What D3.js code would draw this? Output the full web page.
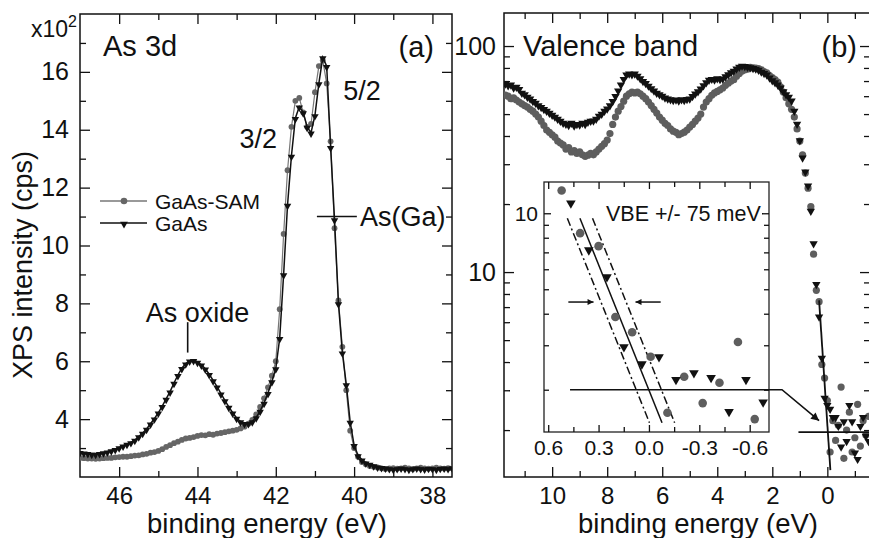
<!DOCTYPE html>
<html lang="en">
<head>
<meta charset="UTF-8">
<title>As 3d and valence band XPS</title>
<script src="https://cdn.jsdelivr.net/npm/d3@7/dist/d3.min.js"></script>
<style>
    body { margin: 0; background: #fff; }
    svg text { font-family: "Liberation Sans", Arial, sans-serif; fill: #111; }
</style>
</head>
<body>
<div id="chart"></div>
<script>
    // ---- panel (a): As 3d core level, one value per 0.1 eV from 47.0 down to 37.5 eV (x100 cps)
    const as3dStart = 47.0, as3dStep = 0.1;
    const as3dSam = [
        2.66, 2.65, 2.64, 2.64, 2.63, 2.64, 2.65, 2.66, 2.66, 2.68,
        2.69, 2.70, 2.70, 2.72, 2.74, 2.75, 2.78, 2.80, 2.84, 2.86,
        2.90, 2.96, 3.04, 3.10, 3.17, 3.22, 3.28, 3.33, 3.35, 3.38,
        3.42, 3.45, 3.44, 3.48, 3.46, 3.50, 3.52, 3.55, 3.58, 3.60,
        3.63, 3.68, 3.74, 3.84, 3.97, 4.16, 4.42, 4.72, 5.10, 5.50,
        6.00, 7.80, 10.4, 12.6, 14.1, 15.0, 15.1, 14.6, 14.1, 14.2,
        15.3, 16.2, 16.4, 15.6, 13.6, 10.6, 8.1, 6.5, 5.0, 3.6,
        3.0, 2.7, 2.52, 2.44, 2.38, 2.35, 2.33, 2.30, 2.28, 2.30,
        2.31, 2.29, 2.30, 2.32, 2.30, 2.28, 2.30, 2.32, 2.30, 2.29,
        2.30, 2.32, 2.30, 2.29, 2.31, 2.30
    ];
    const as3dGaas = [
        2.86, 2.84, 2.82, 2.80, 2.80, 2.82, 2.85, 2.88, 2.92, 2.96,
        3.02, 3.08, 3.14, 3.20, 3.28, 3.40, 3.52, 3.66, 3.84, 4.02,
        4.22, 4.45, 4.70, 4.95, 5.25, 5.52, 5.76, 5.92, 6.02, 6.04,
        5.98, 5.88, 5.74, 5.55, 5.34, 5.12, 4.88, 4.65, 4.42, 4.22,
        4.04, 3.92, 3.86, 3.86, 3.92, 4.06, 4.28, 4.56, 4.90, 5.30,
        5.75, 6.8, 9.0, 11.4, 13.1, 14.4, 14.8, 14.6, 14.1, 13.9,
        14.5, 15.6, 16.5, 16.2, 13.4, 10.9, 8.0, 6.3, 5.2, 3.9,
        3.1, 2.75, 2.6, 2.5, 2.45, 2.40, 2.36, 2.34, 2.32, 2.30,
        2.28, 2.30, 2.32, 2.30, 2.28, 2.30, 2.32, 2.30, 2.29, 2.31,
        2.30, 2.28, 2.31, 2.32, 2.30, 2.33
    ];

    // ---- panel (b): valence band, one value per 0.1 eV from 11.7 down to -1.5 eV (cps)
    const vbStart = 11.7, vbStep = 0.1;
    const vbSam = [
        60.7, 60.0, 58.5, 59.0, 57.7, 56.5, 55.5, 54.5, 53.7, 52.5,
        51.5, 50.0, 48.5, 46.5, 44.5, 42.5, 41.5, 40.5, 39.5, 38.0,
        37.2, 36.5, 35.0, 35.5, 34.0, 34.5, 33.5, 34.0, 33.0, 32.5,
        32.9, 33.5, 33.0, 34.0, 35.0, 36.0, 37.0, 38.4, 41.0, 45.0,
        48.5, 51.5, 54.0, 57.0, 60.0, 61.5, 62.5, 62.0, 62.6, 61.5,
        60.0, 58.5, 56.5, 54.5, 52.5, 50.5, 48.5, 47.0, 45.5, 44.5,
        43.0, 42.0, 41.5, 40.5, 41.0, 41.6, 42.5, 43.8, 45.0, 46.5,
        48.0, 50.0, 53.7, 56.5, 58.5, 60.5, 62.0, 63.0, 64.0, 65.2,
        67.0, 68.5, 70.0, 71.0, 73.5, 75.5, 77.5, 78.5, 79.0, 80.5,
        80.0, 79.9, 79.5, 78.5, 77.0, 76.0, 74.0, 72.5, 71.0, 69.3,
        66.0, 62.6, 59.0, 55.5, 52.5, 48.5, 43.0, 38.0, 33.0, 27.4,
        23.5, 19.5, 12.0, 8.3, 7.4, 3.9, 3.4, 2.7, 1.6, 2.2,
        1.8, 2.1, 3.1, 1.5, 2.0, 2.4, 1.6, 1.85, 2.6, 1.7,
        2.2, 1.9, 2.3
    ];
    const vbGaas = [
        68.6, 67.5, 68.0, 66.0, 66.5, 65.0, 62.5, 61.5, 60.0, 59.0,
        57.5, 56.5, 55.0, 54.0, 53.0, 52.0, 51.0, 50.0, 49.0, 48.0,
        47.0, 46.0, 45.6, 45.0, 46.0, 44.8, 45.5, 45.2, 46.0, 45.5,
        46.5, 47.0, 47.1, 48.0, 49.5, 50.5, 52.0, 53.2, 55.0, 57.5,
        60.5, 63.9, 68.0, 72.0, 75.2, 76.0, 75.5, 76.0, 74.4, 72.5,
        70.5, 69.0, 67.2, 65.5, 64.0, 62.5, 61.5, 60.7, 59.5, 59.0,
        58.5, 58.0, 58.3, 57.8, 58.5, 58.0, 58.6, 58.9, 60.5, 62.0,
        63.5, 65.2, 67.5, 69.5, 71.4, 72.0, 71.5, 72.5, 71.8, 72.2,
        74.0, 75.5, 77.0, 78.3, 80.0, 81.5, 82.4, 82.0, 81.5, 81.0,
        80.5, 79.9, 79.0, 77.5, 76.5, 75.2, 73.0, 71.0, 69.5, 68.0,
        65.9, 63.5, 61.5, 60.0, 57.7, 52.0, 45.6, 38.5, 32.3, 28.0,
        24.3, 18.8, 13.5, 8.9, 6.4, 4.2, 2.8, 2.6, 2.5, 2.3,
        2.3, 2.1, 1.7, 2.2, 1.8, 2.6, 2.2, 1.6, 1.5, 2.1,
        2.3, 1.9, 1.8
    ];

    // ---- inset: valence band edge
    const insetSamE = [0.52, 0.41, 0.30, 0.20, 0.10, -0.01, -0.11, -0.21, -0.32, -0.42, -0.53, -0.63];
    const insetSamI = [12.3, 8.34, 7.41, 3.88, 3.38, 2.70, 1.62, 2.25, 1.77, 2.13, 3.09, 1.53];
    const insetGaasE = [0.465, 0.358, 0.25, 0.149, 0.042, -0.06, -0.161, -0.268, -0.37, -0.477, -0.578, -0.68];
    const insetGaasI = [11.05, 7.21, 5.64, 2.98, 2.55, 2.72, 2.21, 2.35, 2.25, 1.65, 2.21, 1.80];
    const edgeFitE = [0.411, -0.078], edgeFitI = [9.55, 1.48];   // linear edge fit
    const vbeShift = 0.075;                                       // +/- 75 meV
    const backgroundLevel = 2.0;
    const mainFitE = [0.3, -0.11], mainFitI = [7.5, 1.33];
    const mainBackground = 1.96;

    // ---- ticks
    const as3dXMajor = [46, 44, 42, 40, 38], as3dXMinor = [45, 43, 41, 39];
    const as3dYMajor = [4, 6, 8, 10, 12, 14, 16], as3dYMinor = [3, 5, 7, 9, 11, 13, 15, 17];
    const vbXMajor = [10, 8, 6, 4, 2, 0], vbXMinor = [11, 9, 7, 5, 3, 1, -1];
    const vbYMajor = [10, 100], vbYMinor = [2, 3, 4, 5, 6, 7, 8, 9, 20, 30, 40, 50, 60, 70, 80, 90];
    const inXMajor = [0.6, 0.3, 0, -0.3, -0.6], inXMinor = [0.45, 0.15, -0.15, -0.45];
    const inYMajor = [10], inYMinor = [2, 3, 4, 5, 6, 7, 8, 9];

    const width = 869, height = 538;
    const A = {left: 80, right: 452, top: 14, bottom: 477};
    const B = {left: 504, right: 870, top: 13, bottom: 477};
    const I = {left: 544, right: 769, top: 182, bottom: 432};
    const ink = "#111", grey = "#5e5e5e";

    const svg = d3.select('#chart').append('svg').attr('width', width).attr('height', height);
    const defs = svg.append('defs');

    const arrow = (id, w, h) => defs.append('marker').attr('id', id)
        .attr('viewBox', '0 0 10 10').attr('refX', 10).attr('refY', 5)
        .attr('markerUnits', 'userSpaceOnUse').attr('markerWidth', w).attr('markerHeight', h)
        .attr('orient', 'auto')
        .append('path').attr('d', 'M0,0 L10,5 L0,10 Z').attr('fill', ink);
    arrow('arrBig', 11, 8);
    arrow('arrSmall', 8, 6);

    const clip = (id, r) => defs.append('clipPath').attr('id', id).append('rect')
        .attr('x', r.left).attr('y', r.top).attr('width', r.right - r.left).attr('height', r.bottom - r.top);
    clip('clipA', A);
    clip('clipB', B);

    function ticks(orient, scale, values, len, at, opts = {}) {
        const make = {bottom: d3.axisBottom, top: d3.axisTop, left: d3.axisLeft, right: d3.axisRight}[orient];
        const ax = make(scale).tickValues(values).tickSize(-len).tickPadding(opts.pad || 0)
            .tickFormat(opts.fmt || (() => ''));
        const g = svg.append('g').attr('transform', at).call(ax)
            .attr('font-family', null).attr('font-size', opts.size || 24);
        g.select('.domain').remove();
        g.selectAll('.tick line').attr('stroke', ink).attr('stroke-width', 1.3);
        return g;
    }

    const frame = r => svg.append('rect').attr('x', r.left).attr('y', r.top)
        .attr('width', r.right - r.left).attr('height', r.bottom - r.top)
        .attr('fill', '#fff').attr('stroke', ink).attr('stroke-width', 1.5);

    const tri = size => d3.symbol(d3.symbolTriangle, size);

    // ================= panel (a) =================
    const xA = d3.scaleLinear().domain([47, 37.5]).range([A.left, A.right]);
    const yA = d3.scaleLinear().domain([2, 18]).range([A.bottom, A.top]);
    const eA = as3dSam.map((_, i) => +(as3dStart - i * as3dStep).toFixed(2));

    frame(A);
    ticks('bottom', xA, as3dXMajor, 10, `translate(0,${A.bottom})`, {pad: 10, fmt: d3.format('d')});
    ticks('bottom', xA, as3dXMinor, 6, `translate(0,${A.bottom})`);
    ticks('top', xA, as3dXMajor, 10, `translate(0,${A.top})`);
    ticks('top', xA, as3dXMinor, 6, `translate(0,${A.top})`);
    ticks('left', yA, as3dYMajor, 10, `translate(${A.left},0)`, {pad: 11, size: 25, fmt: d3.format('d')});
    ticks('left', yA, as3dYMinor, 6, `translate(${A.left},0)`);
    ticks('right', yA, as3dYMajor, 10, `translate(${A.right},0)`);
    ticks('right', yA, as3dYMinor, 6, `translate(${A.right},0)`);

    const plotA = svg.append('g').attr('clip-path', 'url(#clipA)');
    const lineA = d3.line().x((d, i) => xA(eA[i])).y(d => yA(d));
    plotA.append('path').datum(as3dSam).attr('d', lineA)
        .attr('fill', 'none').attr('stroke', '#777').attr('stroke-width', 1.2);
    plotA.selectAll('circle.sam').data(as3dSam).join('circle').classed('sam', true)
        .attr('cx', (d, i) => xA(eA[i])).attr('cy', d => yA(d)).attr('r', 2.9).attr('fill', '#666');
    plotA.append('path').datum(as3dGaas).attr('d', lineA)
        .attr('fill', 'none').attr('stroke', ink).attr('stroke-width', 1.5);
    plotA.selectAll('path.gaas').data(as3dGaas).join('path').classed('gaas', true)
        .attr('d', tri(24))
        .attr('transform', (d, i) => `translate(${xA(eA[i])},${yA(d) + 1}) rotate(180)`)
        .attr('fill', ink);

    // annotations (a)
    svg.append('text').attr('x', 68).attr('y', 37).attr('font-size', 23).attr('text-anchor', 'end').text('x10');
    svg.append('text').attr('x', 68).attr('y', 27).attr('font-size', 16).text('2');
    svg.append('text').attr('x', 103).attr('y', 56).attr('font-size', 29).text('As 3d');
    svg.append('text').attr('x', 434).attr('y', 57).attr('font-size', 29).attr('text-anchor', 'end').text('(a)');
    svg.append('text').attr('x', xA(42.45)).attr('y', yA(13.7) + 9.5).attr('font-size', 27)
        .attr('text-anchor', 'middle').text('3/2');
    svg.append('text').attr('x', xA(39.8)).attr('y', yA(15.35) + 9.5).attr('font-size', 27)
        .attr('text-anchor', 'middle').text('5/2');
    svg.append('line').attr('x1', xA(40.95)).attr('x2', xA(39.93)).attr('y1', yA(11)).attr('y2', yA(11))
        .attr('stroke', ink).attr('stroke-width', 1.6);
    svg.append('text').attr('x', xA(39.85)).attr('y', yA(11) + 9.5).attr('font-size', 27).text('As(Ga)');
    svg.append('text').attr('x', xA(44.0)).attr('y', yA(7.7) + 9.5).attr('font-size', 27)
        .attr('text-anchor', 'middle').text('As oxide');
    svg.append('line').attr('x1', xA(44.25)).attr('x2', xA(44.25)).attr('y1', yA(7.35)).attr('y2', yA(6.3))
        .attr('stroke', ink).attr('stroke-width', 1.6);

    // legend
    const legend = svg.append('g').attr('transform', 'translate(100,201)');
    legend.append('line').attr('x1', 0).attr('x2', 47).attr('stroke', '#777').attr('stroke-width', 1.4);
    legend.append('circle').attr('cx', 24).attr('r', 3.3).attr('fill', '#666');
    legend.append('text').attr('x', 55).attr('y', 7.5).attr('font-size', 21).text('GaAs-SAM');
    legend.append('line').attr('x1', 0).attr('x2', 47).attr('y1', 22).attr('y2', 22)
        .attr('stroke', ink).attr('stroke-width', 1.5);
    legend.append('path').attr('d', tri(26)).attr('transform', 'translate(24,23) rotate(180)').attr('fill', ink);
    legend.append('text').attr('x', 55).attr('y', 29.5).attr('font-size', 21).text('GaAs');

    svg.append('text').attr('transform', 'translate(32,265) rotate(-90)').attr('font-size', 27)
        .attr('text-anchor', 'middle').text('XPS intensity (cps)');
    svg.append('text').attr('x', 267).attr('y', 533).attr('font-size', 27.5)
        .attr('text-anchor', 'middle').text('binding energy (eV)');

    // ================= panel (b) =================
    const xB = d3.scaleLinear().domain([11.75, -1.55]).range([B.left, B.right]);
    const yB = d3.scaleLog().domain([1.24, 140]).range([B.bottom, B.top]);
    const eB = vbSam.map((_, i) => +(vbStart - i * vbStep).toFixed(2));

    frame(B);
    ticks('bottom', xB, vbXMajor, 10, `translate(0,${B.bottom})`, {pad: 10, fmt: d3.format('d')});
    ticks('bottom', xB, vbXMinor, 6, `translate(0,${B.bottom})`);
    ticks('top', xB, vbXMajor, 10, `translate(0,${B.top})`);
    ticks('top', xB, vbXMinor, 6, `translate(0,${B.top})`);
    ticks('left', yB, vbYMajor, 10, `translate(${B.left},0)`, {pad: 8, size: 25, fmt: d3.format('d')});
    ticks('left', yB, vbYMinor, 6, `translate(${B.left},0)`);
    ticks('right', yB, vbYMajor, 10, `translate(${B.right},0)`);
    ticks('right', yB, vbYMinor, 6, `translate(${B.right},0)`);

    const plotB = svg.append('g').attr('clip-path', 'url(#clipB)');
    plotB.selectAll('circle').data(vbSam).join('circle')
        .attr('cx', (d, i) => xB(eB[i])).attr('cy', d => yB(d)).attr('r', 3.6).attr('fill', grey);
    plotB.selectAll('path.gaas').data(vbGaas).join('path').classed('gaas', true)
        .attr('d', tri(30))
        .attr('transform', (d, i) => `translate(${xB(eB[i])},${yB(d) + 1}) rotate(180)`)
        .attr('fill', ink);
    plotB.append('line').attr('x1', xB(1.05)).attr('x2', xB(-1.6))
        .attr('y1', yB(mainBackground)).attr('y2', yB(mainBackground))
        .attr('stroke', ink).attr('stroke-width', 1.8);
    plotB.append('line').attr('x1', xB(mainFitE[0])).attr('x2', xB(mainFitE[1]))
        .attr('y1', yB(mainFitI[0])).attr('y2', yB(mainFitI[1]))
        .attr('stroke', ink).attr('stroke-width', 1.8);

    svg.append('text').attr('x', 523).attr('y', 56).attr('font-size', 29).text('Valence band');
    svg.append('text').attr('x', 857).attr('y', 57).attr('font-size', 29).attr('text-anchor', 'end').text('(b)');
    svg.append('text').attr('x', 698).attr('y', 533).attr('font-size', 27.5)
        .attr('text-anchor', 'middle').text('binding energy (eV)');

    // ================= inset =================
    const xI = d3.scaleLinear().domain([0.625, -0.715]).range([I.left, I.right]);
    const yI = d3.scaleLog().domain([1.36, 13.3]).range([I.bottom, I.top]);

    svg.append('rect').attr('x', I.left).attr('y', I.top).attr('width', I.right - I.left)
        .attr('height', I.bottom - I.top).attr('fill', '#fff').attr('stroke', '#222').attr('stroke-width', 1.3);
    const inFmt = d => d.toFixed(1);
    ticks('bottom', xI, inXMajor, 7, `translate(0,${I.bottom})`, {pad: 8, size: 21, fmt: inFmt});
    ticks('bottom', xI, inXMinor, 5, `translate(0,${I.bottom})`);
    ticks('top', xI, inXMajor, 7, `translate(0,${I.top})`);
    ticks('top', xI, inXMinor, 5, `translate(0,${I.top})`);
    ticks('left', yI, inYMajor, 7, `translate(${I.left},0)`, {pad: 6, size: 21, fmt: d3.format('d')});
    ticks('left', yI, inYMinor, 5, `translate(${I.left},0)`);
    ticks('right', yI, inYMajor, 7, `translate(${I.right},0)`);
    ticks('right', yI, inYMinor, 5, `translate(${I.right},0)`);

    const inset = svg.append('g');
    const yBg = yI(backgroundLevel);
    // background level, leaving the inset towards the main panel
    inset.append('line').attr('x1', xI(0.47)).attr('x2', I.right).attr('y1', yBg).attr('y2', yBg)
        .attr('stroke', ink).attr('stroke-width', 1.6);
    svg.append('path')
        .attr('d', `M${I.right},${yBg} L${I.right + 13},${yBg} L${xB(0.3)},${yB(2.2)}`)
        .attr('fill', 'none').attr('stroke', ink).attr('stroke-width', 1.6)
        .attr('marker-end', 'url(#arrBig)');

    const fitLine = (shift, dash) => inset.append('line')
        .attr('x1', xI(edgeFitE[0] + shift)).attr('y1', yI(edgeFitI[0]))
        .attr('x2', xI(edgeFitE[1] + shift)).attr('y2', yI(edgeFitI[1]))
        .attr('stroke', ink).attr('stroke-width', 1.5).attr('stroke-dasharray', dash);
    fitLine(0, null);
    fitLine(vbeShift, '8,3,2,3');
    fitLine(-vbeShift, '8,3,2,3');

    inset.append('line').attr('x1', xI(0.48)).attr('x2', xI(0.33)).attr('y1', yI(4.45)).attr('y2', yI(4.45))
        .attr('stroke', ink).attr('stroke-width', 1.5).attr('marker-end', 'url(#arrSmall)');
    inset.append('line').attr('x1', xI(-0.07)).attr('x2', xI(0.08)).attr('y1', yI(4.45)).attr('y2', yI(4.45))
        .attr('stroke', ink).attr('stroke-width', 1.5).attr('marker-end', 'url(#arrSmall)');

    inset.selectAll('circle').data(insetSamI).join('circle')
        .attr('cx', (d, i) => xI(insetSamE[i])).attr('cy', d => yI(d)).attr('r', 4.3).attr('fill', grey);
    inset.selectAll('path.gaas').data(insetGaasI).join('path').classed('gaas', true)
        .attr('d', tri(40))
        .attr('transform', (d, i) => `translate(${xI(insetGaasE[i])},${yI(d) + 1}) rotate(180)`)
        .attr('fill', ink);

    svg.append('text').attr('x', 606).attr('y', 221).attr('font-size', 21.5).text('VBE +/- 75 meV');
</script>
</body>
</html>
